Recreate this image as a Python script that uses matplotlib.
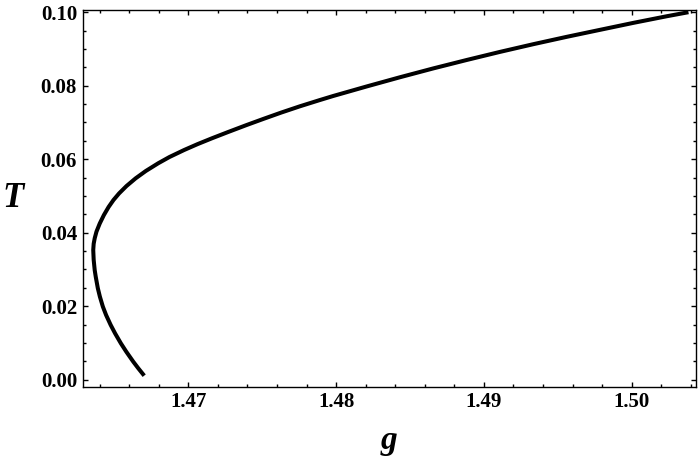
import matplotlib
matplotlib.use("Agg")
import matplotlib.pyplot as plt
from matplotlib.ticker import MultipleLocator, FormatStrFormatter

# curve, from the bottom end upwards
g = [1.46701, 1.46661, 1.46627, 1.46580, 1.46543, 1.46504, 1.46474, 1.46443,
     1.46421, 1.46401, 1.46387, 1.46373, 1.46366, 1.46359, 1.46356, 1.46359,
     1.46366, 1.46378, 1.46400, 1.46428, 1.46460, 1.46493, 1.46531, 1.46581,
     1.46643, 1.46712, 1.46796, 1.46872, 1.46971, 1.47062, 1.47160, 1.47269,
     1.47394, 1.47510, 1.47629, 1.47755, 1.47890, 1.47980, 1.48207, 1.48432,
     1.48657, 1.48884, 1.49109, 1.49335, 1.49561, 1.49786, 1.50012, 1.50238,
     1.50385]
T = [0.0011, 0.0031, 0.0049, 0.0076, 0.0099, 0.0126, 0.0149, 0.0176,
     0.0199, 0.0226, 0.0249, 0.0280, 0.0298, 0.0326, 0.0353, 0.0370,
     0.0385, 0.0403, 0.0425, 0.0448, 0.0470, 0.0489, 0.0507, 0.0527,
     0.0548, 0.0568, 0.0589, 0.0606, 0.0625, 0.0641, 0.0657, 0.0674,
     0.0693, 0.0710, 0.0727, 0.0744, 0.0761, 0.0772, 0.0798, 0.0823,
     0.0847, 0.0870, 0.0892, 0.0913, 0.0933, 0.0952, 0.0971, 0.0989,
     0.1000]

xticks = [1.47, 1.48, 1.49, 1.50]
yticks = [0.00, 0.02, 0.04, 0.06, 0.08, 0.10]

plt.rcParams['font.family'] = ['Liberation Serif', 'DejaVu Serif']

fig = plt.figure(figsize=(7, 4.63), dpi=100)
ax = fig.add_axes([0.118, 0.1648, 0.8763, 0.8136])

ax.plot(g, T, color='black', lw=2.9, solid_capstyle='butt',
        solid_joinstyle='round')

ax.set_xlim(1.46284, 1.50436)
ax.set_ylim(-0.0019, 0.1006)
ax.set_xticks(xticks)
ax.set_yticks(yticks)
ax.xaxis.set_minor_locator(MultipleLocator(0.002))
ax.yaxis.set_minor_locator(MultipleLocator(0.005))
ax.xaxis.set_major_formatter(FormatStrFormatter('%.2f'))
ax.yaxis.set_major_formatter(FormatStrFormatter('%.2f'))

ax.tick_params(which='both', direction='in', top=True, right=True,
               labelsize=15, pad=4)
ax.tick_params(which='major', length=3.5, width=1)
ax.tick_params(which='minor', length=2, width=1)
for lab in ax.get_xticklabels() + ax.get_yticklabels():
    lab.set_fontweight('bold')
for sp in ax.spines.values():
    sp.set_linewidth(1)

ax.set_xlabel('g', fontsize=24, fontweight='bold', fontstyle='italic', labelpad=9)
ax.set_ylabel('T', fontsize=25, fontweight='bold', fontstyle='italic',
              rotation=0, labelpad=20, va='center')

fig.savefig('out.png', dpi=100)
